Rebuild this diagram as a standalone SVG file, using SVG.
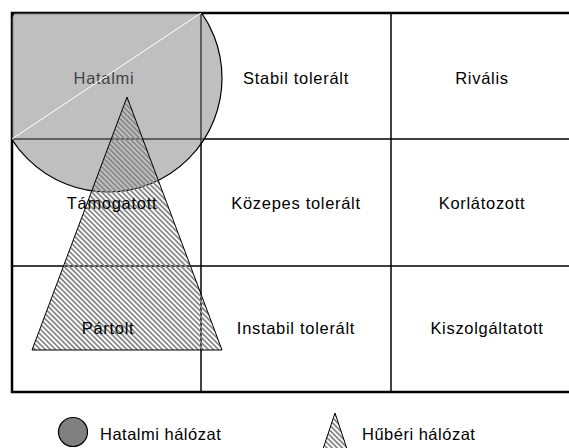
<svg xmlns="http://www.w3.org/2000/svg" width="569" height="448" viewBox="0 0 569 448">
<defs>
<pattern id="hatch" patternUnits="userSpaceOnUse" width="3.6" height="10" patternTransform="rotate(-45)">
<rect x="0" y="0" width="1.8" height="10" fill="#8a8a8a"/>
</pattern>
<clipPath id="gridclip"><rect x="12" y="13" width="557" height="435"/></clipPath>
<style>
.lbl{font-family:"Liberation Sans",Arial,sans-serif;font-size:16.5px;letter-spacing:0.7px;fill:#000;text-anchor:middle}
.leg{font-family:"Liberation Sans",Arial,sans-serif;font-size:16.5px;letter-spacing:0.5px;fill:#000}
.grid{stroke:#000;fill:none}
</style>
</defs>
<rect width="569" height="448" fill="#fff"/>
<g id="grid">
<line class="grid" x1="12" y1="139" x2="569" y2="139" stroke-width="1.5"/>
<line class="grid" x1="12" y1="266" x2="569" y2="266" stroke-width="1.5"/>
<line class="grid" x1="201" y1="13" x2="201" y2="392" stroke-width="1.5"/>
<line class="grid" x1="391" y1="13" x2="391" y2="392" stroke-width="1.5"/>
<path class="grid" d="M569,13 H12 V392 H569" stroke-width="2.5"/>
</g>
<g id="cells">
<text class="lbl" x="104" y="84">Hatalmi</text>
<text class="lbl" x="296" y="84">Stabil tolerált</text>
<text class="lbl" x="482" y="84">Rivális</text>
<text class="lbl" x="296" y="209">Közepes tolerált</text>
<text class="lbl" x="482" y="209">Korlátozott</text>
<text class="lbl" x="296" y="334">Instabil tolerált</text>
<text class="lbl" x="487" y="334">Kiszolgáltatott</text>
</g>
<g id="hatalmi-halozat" clip-path="url(#gridclip)">
<circle cx="108" cy="78" r="114" fill="#808080" fill-opacity="0.5" stroke="#000" stroke-width="1.2"/>
<line x1="12" y1="139" x2="201" y2="13" stroke="#fff" stroke-width="1"/>
</g>
<g id="huberi-halozat">
<polygon points="127,97 222,350 32,350" fill="url(#hatch)" stroke="#000" stroke-width="1"/>
</g>
<g id="cells-over">
<text class="lbl" x="112" y="209">Támogatott</text>
<text class="lbl" x="108" y="334">Pártolt</text>
</g>
<g id="legend">
<circle cx="73" cy="432" r="14.5" fill="#808080" stroke="#000" stroke-width="1.2"/>
<text class="leg" x="100" y="440">Hatalmi hálózat</text>
<polygon points="335,413 347,449 323,449" fill="url(#hatch)" stroke="#000" stroke-width="1"/>
<text class="leg" x="362" y="440">Hűbéri hálózat</text>
</g>
</svg>
